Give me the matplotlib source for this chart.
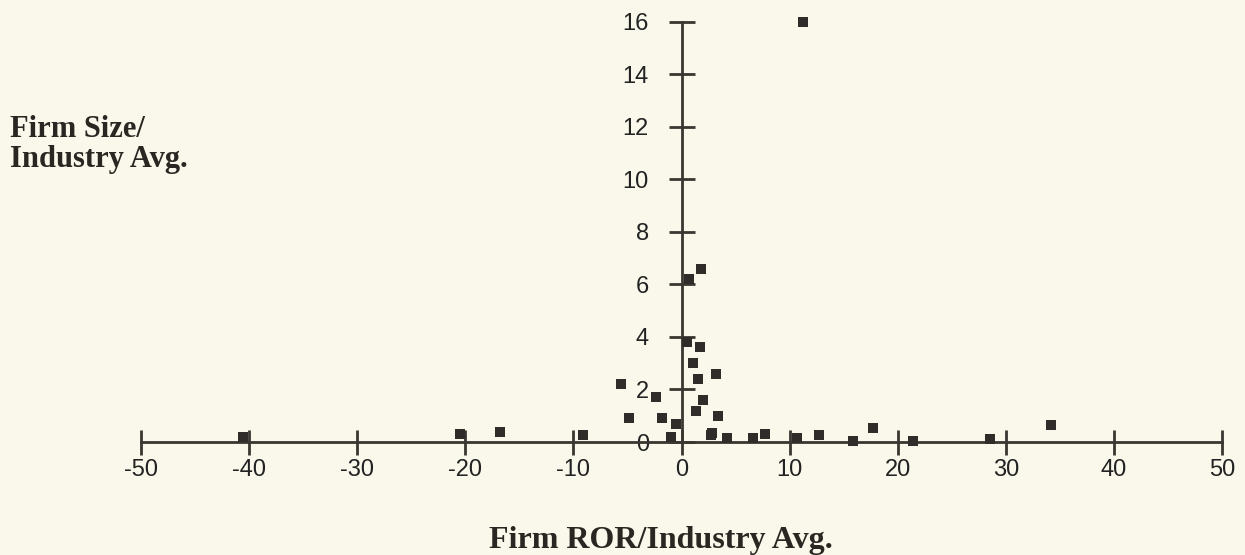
import matplotlib.pyplot as plt

# firm ROR / industry avg (x) vs firm size / industry avg (y)
ror = [11.2, 1.8, 0.7, 1.7, 0.5, 1.1, 3.2, 1.5, -5.6, -2.4, 2.0, -4.9, 3.4,
       -0.5, -1.0, 2.8, 4.2, 6.6, 7.7, 10.7, 12.7, 15.9, 17.7, 21.4, 28.5,
       34.2, -40.6, -20.5, -16.8, -9.1, 2.7, 1.3, -1.8]
size = [16.0, 6.6, 6.2, 3.6, 3.8, 3.0, 2.6, 2.4, 2.2, 1.7, 1.6, 0.9, 1.0,
        0.7, 0.2, 0.35, 0.15, 0.15, 0.3, 0.15, 0.25, 0.05, 0.55, 0.05, 0.1,
        0.65, 0.2, 0.3, 0.4, 0.25, 0.25, 1.2, 0.9]

xticks = [-50, -40, -30, -20, -10, 0, 10, 20, 30, 40, 50]
yticks = [0, 2, 4, 6, 8, 10, 12, 14, 16]

bg = "#f9f8ea"
ink = "#3a3632"

fig = plt.figure(figsize=(12.45, 5.55), dpi=100, facecolor=bg)
ax = fig.add_axes([0.1133, 0.2036, 0.8683, 0.7568])
ax.set_facecolor(bg)

ax.scatter(ror, size, marker="s", s=55, color="#2f2c2a", zorder=3,
           clip_on=False, linewidths=0)

ax.set_xlim(-50, 50)
ax.set_ylim(0, 16)
ax.spines["left"].set_position(("data", 0))
ax.spines["bottom"].set_position(("data", 0))
ax.spines["top"].set_visible(False)
ax.spines["right"].set_visible(False)
for s in ("left", "bottom"):
    ax.spines[s].set_color(ink)
    ax.spines[s].set_linewidth(2)

ax.set_xticks(xticks)
ax.set_yticks(yticks)
ax.set_xticklabels([str(v) for v in xticks])
ax.set_yticklabels([str(v) for v in yticks])
ax.tick_params(axis="x", direction="inout", length=18, width=2, color=ink,
               pad=3, labelsize=17, labelcolor="#222")
ax.tick_params(axis="y", direction="inout", length=19, width=2, color=ink,
               pad=14, labelsize=17, labelcolor="#222")
for lab in ax.get_xticklabels() + ax.get_yticklabels():
    lab.set_fontfamily("Liberation Sans")

fig.text(0.531, 0.027, "Firm ROR/Industry Avg.", ha="center", va="center",
         fontsize=23, fontweight="bold", family="Liberation Serif", color="#2a2622")
fig.text(0.008, 0.739, "Firm Size/\nIndustry Avg.", ha="left", va="center",
         fontsize=22, fontweight="bold", family="Liberation Serif", color="#2a2622",
         linespacing=1.05)

fig.savefig("out.png", dpi=100, facecolor=bg)
